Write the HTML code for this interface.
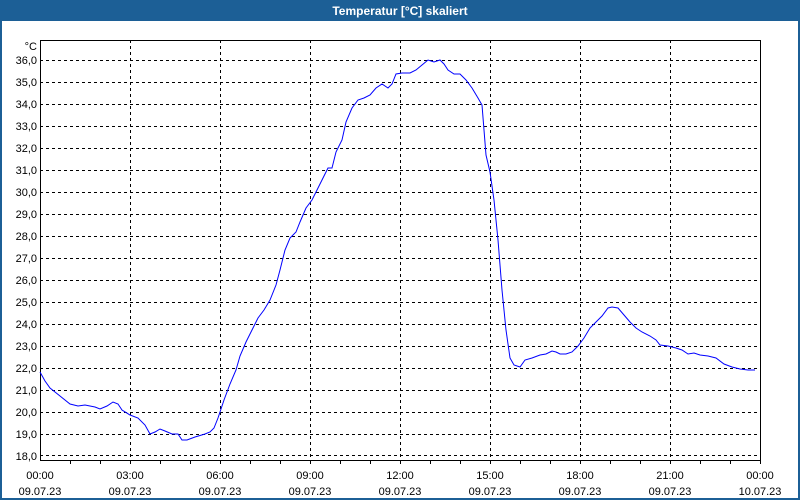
<!DOCTYPE html>
<html><head><meta charset="utf-8"><style>
html,body{margin:0;padding:0;background:#fff}
svg{display:block;font-family:"Liberation Sans",sans-serif}
</style></head><body>
<svg width="800" height="500" viewBox="0 0 800 500" xmlns="http://www.w3.org/2000/svg">
<rect x="0" y="0" width="800" height="500" fill="#1c5f96"/>
<rect x="2" y="21" width="796" height="477" fill="#fff"/>
<text x="400" y="15" fill="#fff" font-size="12" font-weight="bold" text-anchor="middle">Temperatur [°C] skaliert</text>
<g stroke="#000" stroke-dasharray="3,3" stroke-width="1">
<path d="M40 60.5H760M40 82.5H760M40 104.5H760M40 126.5H760M40 148.5H760M40 170.5H760M40 192.5H760M40 214.5H760M40 236.5H760M40 258.5H760M40 280.5H760M40 302.5H760M40 324.5H760M40 346.5H760M40 368.5H760M40 390.5H760M40 412.5H760M40 434.5H760M40 455.5H760"/>
<path d="M130.5 40V460M220.5 40V460M310.5 40V460M400.5 40V460M490.5 40V460M580.5 40V460M670.5 40V460"/>
</g>
<rect x="40.5" y="40.5" width="720" height="420" fill="none" stroke="#000"/>
<g stroke="#000"><path d="M70.5 460v4M100.5 460v4M130.5 460v4M160.5 460v4M190.5 460v4M220.5 460v4M250.5 460v4M280.5 460v4M310.5 460v4M340.5 460v4M370.5 460v4M400.5 460v4M430.5 460v4M460.5 460v4M490.5 460v4M520.5 460v4M550.5 460v4M580.5 460v4M610.5 460v4M640.5 460v4M670.5 460v4M700.5 460v4M730.5 460v4M760.5 460v4"/></g>
<g font-size="11" fill="#000" text-anchor="end">
<text x="37" y="50">°C</text>
<text x="37" y="64">36,0</text><text x="37" y="86">35,0</text><text x="37" y="108">34,0</text><text x="37" y="130">33,0</text><text x="37" y="152">32,0</text><text x="37" y="174">31,0</text><text x="37" y="196">30,0</text><text x="37" y="218">29,0</text><text x="37" y="240">28,0</text><text x="37" y="262">27,0</text><text x="37" y="284">26,0</text><text x="37" y="306">25,0</text><text x="37" y="328">24,0</text><text x="37" y="350">23,0</text><text x="37" y="372">22,0</text><text x="37" y="394">21,0</text><text x="37" y="416">20,0</text><text x="37" y="438">19,0</text><text x="37" y="460">18,0</text>
</g>
<g font-size="11" fill="#000" text-anchor="middle">
<text x="40" y="479">00:00</text><text x="40" y="495">09.07.23</text>
<text x="130" y="479">03:00</text><text x="130" y="495">09.07.23</text>
<text x="220" y="479">06:00</text><text x="220" y="495">09.07.23</text>
<text x="310" y="479">09:00</text><text x="310" y="495">09.07.23</text>
<text x="400" y="479">12:00</text><text x="400" y="495">09.07.23</text>
<text x="490" y="479">15:00</text><text x="490" y="495">09.07.23</text>
<text x="580" y="479">18:00</text><text x="580" y="495">09.07.23</text>
<text x="670" y="479">21:00</text><text x="670" y="495">09.07.23</text>
<text x="760" y="479">00:00</text><text x="760" y="495">10.07.23</text>
</g>
<polyline fill="none" stroke="#0000ff" stroke-width="1" points="40,372 45,381 50,388 60,396 70,404 78,406 85,405 95,407 100,409 107,406 113,402 118,404 122,410 130,415 138,418 145,425 150,434 155,432 160,429 165,431 172,434 178,434 182,440 187,440 195,437 205,434 210,432 214,428 218,418 224,400 230,384 236,370 240,356 246,342 252,330 258,318 264,310 270,300 276,285 280,270 285,250 290,238 296,232 300,222 306,208 312,200 318,188 322,180 328,168 332,168 336,152 342,140 346,122 352,108 358,100 364,98 370,95 376,88 382,84 388,88 392,84 396,74 402,73 410,73 416,70 422,65 428,60 434,62 440,60 444,64 448,70 454,74 460,74 466,80 472,88 478,98 482,105 484,130 486,155 490,172 494,200 498,240 502,290 506,330 510,358 514,365 520,367 525,360 532,358 540,355 546,354 552,351 556,352 560,354 566,354 572,352 578,346 584,338 590,328 596,322 602,316 608,308 612,307 618,308 624,315 630,322 636,328 642,332 650,336 656,340 660,345 668,346 676,348 682,350 688,354 694,353 700,355 708,356 716,358 724,364 732,367 740,369 748,370 755,370"/>
</svg>
</body></html>
